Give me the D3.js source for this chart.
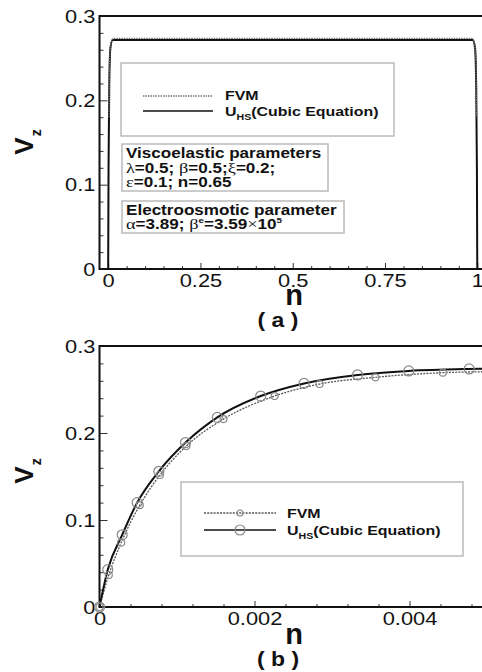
<html lang="en">
<head>
<meta charset="UTF-8">
<title>Velocity profile vz vs n</title>
<script src="https://cdn.jsdelivr.net/npm/d3@7/dist/d3.min.js"></script>
<style>
  body { margin: 0; background: #fff; }
  text { font-family: "Liberation Sans", Arial, sans-serif; fill: #111; }
</style>
</head>
<body>
<script>
    // panel (a): whole channel width
    let aUhsX = [0, 0.001, 0.003, 0.006, 0.012, 0.5, 0.988, 0.994, 0.997, 0.999, 1]
    let aUhsY = [0, 0.12, 0.22, 0.262, 0.2715, 0.2715, 0.2715, 0.262, 0.22, 0.12, 0]
    let aFvmX = [0.002, 0.004, 0.008, 0.014, 0.5, 0.986, 0.992, 0.996, 0.998]
    let aFvmY = [0.18, 0.25, 0.268, 0.2735, 0.2735, 0.2735, 0.268, 0.25, 0.18]
    let aXTicks = [0, 0.25, 0.5, 0.75, 1]
    let aYTicks = [0, 0.1, 0.2, 0.3]

    // panel (b): near wall, values with markers
    let bUhsX = [0, 0.000107, 0.000293, 0.000486, 0.000766, 0.00111, 0.00152, 0.00208, 0.00264, 0.00333, 0.00399, 0.00477, 0.005]
    let bUhsY = [0, 0.043, 0.083, 0.12, 0.156, 0.189, 0.218, 0.2425, 0.257, 0.2667, 0.2713, 0.2736, 0.274]
    let bFvmX = [0, 0.00012, 0.00028, 0.00052, 0.00078, 0.00112, 0.0016, 0.00226, 0.00284, 0.00356, 0.00443, 0.005]
    let bFvmY = [0, 0.0368, 0.074, 0.117, 0.1517, 0.185, 0.216, 0.2425, 0.2563, 0.264, 0.2693, 0.2705]
    let bXTicks = [0, 0.002, 0.004]
    let bYTicks = [0, 0.1, 0.2, 0.3]

    let legendNames = ["FVM", "U", "HS", "(Cubic Equation)"]

    let svg = d3.select('body').append('svg')
        .attr('width', 482)
        .attr('height', 672)

    const SX = 1.15   // the picture is a little wider than tall

    function zip(xs, ys) { return xs.map(function (d, i) { return [d, ys[i]] }) }

    function minors(lo, hi, step, majors) {
        return d3.range(lo, hi + step / 2, step).filter(function (v) {
            return !majors.some(function (m) { return Math.abs(m - v) < step / 10 })
        })
    }

    function drawAxes(g, x, y, xTicks, yTicks, xMin, yMin) {
        let bottom = y.range()[0], top = y.range()[1]
        let left = x.range()[0]

        let gx = g.append('g').attr('transform', 'translate(0,' + bottom + ')')
            .call(d3.axisBottom(x).tickValues(xTicks).tickSize(-6).tickPadding(4)
                .tickFormat(function (d) { return String(d) }))
        g.append('g').attr('transform', 'translate(0,' + bottom + ')')
            .call(d3.axisBottom(x).tickValues(xMin).tickSize(-3).tickFormat(''))
        let gy = g.append('g').attr('transform', 'translate(' + left + ',0)')
            .call(d3.axisLeft(y).tickValues(yTicks).tickSize(-8).tickPadding(3.5)
                .tickFormat(function (d) { return String(d) }))
        g.append('g').attr('transform', 'translate(' + left + ',0)')
            .call(d3.axisLeft(y).tickValues(yMin).tickSize(-4).tickFormat(''))

        g.selectAll('.domain').remove()
        g.selectAll('.tick line').attr('stroke', '#333').attr('stroke-width', 1)
        gx.selectAll('text').style('font-size', '19px').attr('fill', '#111')
            .attr('transform', 'scale(' + SX + ',1)')
        gy.selectAll('text').style('font-size', '19px').attr('fill', '#111')
            .attr('transform', 'scale(' + SX + ',1)')

        // frame
        g.append('path')
            .attr('d', 'M' + 500 + ',' + top + 'H' + left + 'V' + bottom + 'H' + 500)
            .attr('fill', 'none').attr('stroke', '#111').attr('stroke-width', 2)
    }

    function axisTitles(g, x, cy, ny, capY, cap) {
        g.append('text').attr('x', 294).attr('y', ny)
            .attr('text-anchor', 'middle').style('font-size', '29px').style('font-weight', 'bold')
            .text('n')
        g.append('text').attr('transform', 'translate(278,' + capY + ') scale(1.15,1)')
            .attr('text-anchor', 'middle').style('font-size', '20px').style('font-weight', 'bold')
            .text('( ' + cap + ' )')
        let v = g.append('text')
            .attr('transform', 'translate(33,' + cy + ') rotate(-90)')
            .attr('text-anchor', 'middle').style('font-size', '26px').style('font-weight', 'bold')
        v.append('tspan').text('V')
        v.append('tspan').attr('dy', 8).attr('dx', 1).style('font-size', '14px').text('z')
    }

    function legendText(g, tx, y1, y2) {
        g.append('text').attr('transform', 'translate(' + tx + ',' + y1 + ') scale(1.18,1)')
            .style('font-size', '13.5px').style('font-weight', 'bold').text(legendNames[0])
        let t2 = g.append('text').attr('transform', 'translate(' + tx + ',' + y2 + ') scale(1.18,1)')
            .style('font-size', '13.5px').style('font-weight', 'bold')
        t2.append('tspan').text(legendNames[1])
        t2.append('tspan').attr('dy', 4).style('font-size', '9px').text(legendNames[2])
        t2.append('tspan').attr('dy', -4).text(legendNames[3])
    }

    // ---------------- panel (a)
    let ga = svg.append('g')
    let xa = d3.scaleLinear().domain([-0.0235, 1.025]).range([99.5, 486.5])
    let ya = d3.scaleLinear().domain([0, 0.3]).range([269, 16])

    drawAxes(ga, xa, ya, aXTicks, aYTicks, minors(0, 1, 0.05, aXTicks), minors(0, 0.3, 0.02, aYTicks))

    let lineA = d3.line().x(function (d) { return xa(d[0]) }).y(function (d) { return ya(d[1]) })
        .curve(d3.curveMonotoneX)
    ga.append('path').datum(zip(aUhsX, aUhsY)).attr('d', lineA)
        .attr('fill', 'none').attr('stroke', '#111').attr('stroke-width', 2)
    ga.append('path').datum(zip(aFvmX, aFvmY)).attr('d', lineA)
        .attr('fill', 'none').attr('stroke', '#777').attr('stroke-width', 1.3)
        .attr('stroke-dasharray', '1.5,1')

    // legend (a)
    ga.append('rect').attr('x', 121).attr('y', 63).attr('width', 273).attr('height', 73)
        .attr('fill', 'white').attr('stroke', '#bbb').attr('stroke-width', 1.5)
    ga.append('line').attr('x1', 143).attr('x2', 213).attr('y1', 96).attr('y2', 96)
        .attr('stroke', '#777').attr('stroke-width', 1.3).attr('stroke-dasharray', '1.5,1')
    ga.append('line').attr('x1', 143).attr('x2', 213).attr('y1', 111).attr('y2', 111)
        .attr('stroke', '#111').attr('stroke-width', 1.6)
    legendText(ga, 225, 99.5, 115.5)

    // parameter boxes
    ga.append('rect').attr('x', 122).attr('y', 144).attr('width', 206).attr('height', 47)
        .attr('fill', 'white').attr('stroke', '#bbb').attr('stroke-width', 1.5)
    ga.append('rect').attr('x', 122).attr('y', 201).attr('width', 222).attr('height', 32)
        .attr('fill', 'white').attr('stroke', '#bbb').attr('stroke-width', 1.5)

    function paramLine(y, parts) {
        let t = ga.append('text').attr('transform', 'translate(126,' + y + ') scale(1.22,1)')
            .style('font-size', '14px').style('font-weight', 'bold')
        parts.forEach(function (p) {
            let s = t.append('tspan').text(p[0])
            if (p[1] === 'g') s.style('font-family', '"Liberation Serif", serif').style('font-weight', 'normal').style('font-size', '15px')
            if (p[1] === 'sup') s.attr('dy', -6).style('font-size', '8px')
            if (p[1] === 'back') s.attr('dy', 6)
        })
    }
    paramLine(158, [['Viscoelastic parameters']])
    paramLine(172.5, [['λ', 'g'], ['=0.5; '], ['β', 'g'], ['=0.5;'], ['ξ', 'g'], ['=0.2;']])
    paramLine(187, [['ε', 'g'], ['=0.1; n=0.65']])
    paramLine(215, [['Electroosmotic parameter']])
    paramLine(229, [['α', 'g'], ['=3.89; '], ['β', 'g'], ['e', 'sup'], ['=3.59', 'back'], ['×', 'g'], ['10'], ['5', 'sup']])

    axisTitles(ga, xa, 142, 305, 327, 'a')

    // ---------------- panel (b)
    let gb = svg.append('g')
    let xb = d3.scaleLinear().domain([0, 0.005]).range([99.5, 487])
    let yb = d3.scaleLinear().domain([0, 0.3]).range([607, 346])

    drawAxes(gb, xb, yb, bXTicks, bYTicks, minors(0, 0.005, 0.0004, bXTicks), minors(0, 0.3, 0.02, bYTicks))

    let lineB = d3.line().x(function (d) { return xb(d[0]) }).y(function (d) { return yb(d[1]) })
        .curve(d3.curveMonotoneX)
    gb.append('path').datum(zip(bFvmX, bFvmY)).attr('d', lineB)
        .attr('fill', 'none').attr('stroke', '#555').attr('stroke-width', 1.3)
        .attr('stroke-dasharray', '2,1.2')
    gb.append('path').datum(zip(bUhsX, bUhsY)).attr('d', lineB)
        .attr('fill', 'none').attr('stroke', '#111').attr('stroke-width', 2)

    gb.selectAll('circle.fvm').data(zip(bFvmX, bFvmY).slice(0, -1)).enter()
        .append('circle').attr('class', 'fvm')
        .attr('cx', function (d) { return xb(d[0]) })
        .attr('cy', function (d) { return yb(d[1]) })
        .attr('r', 3.5)
        .attr('fill', 'none').attr('stroke', '#888').attr('stroke-width', 1.2)
    gb.selectAll('circle.uhs').data(zip(bUhsX, bUhsY).slice(0, -1)).enter()
        .append('circle').attr('class', 'uhs')
        .attr('cx', function (d) { return xb(d[0]) })
        .attr('cy', function (d) { return yb(d[1]) })
        .attr('r', 5)
        .attr('fill', 'none').attr('stroke', '#888').attr('stroke-width', 1.2)

    // legend (b)
    gb.append('rect').attr('x', 181).attr('y', 482).attr('width', 282).attr('height', 74)
        .attr('fill', 'white').attr('stroke', '#bbb').attr('stroke-width', 1.5)
    gb.append('line').attr('x1', 204).attr('x2', 276).attr('y1', 513).attr('y2', 513)
        .attr('stroke', '#555').attr('stroke-width', 1.3).attr('stroke-dasharray', '2,1.2')
    gb.append('line').attr('x1', 204).attr('x2', 276).attr('y1', 530).attr('y2', 530)
        .attr('stroke', '#111').attr('stroke-width', 1.6)
    gb.append('circle').attr('cx', 240).attr('cy', 513).attr('r', 3)
        .attr('fill', 'none').attr('stroke', '#888').attr('stroke-width', 1.2)
    gb.append('circle').attr('cx', 240).attr('cy', 530).attr('r', 5)
        .attr('fill', 'none').attr('stroke', '#888').attr('stroke-width', 1.2)
    legendText(gb, 287, 517.5, 535)

    axisTitles(gb, xb, 471, 644, 666, 'b')
</script>
</body>
</html>
